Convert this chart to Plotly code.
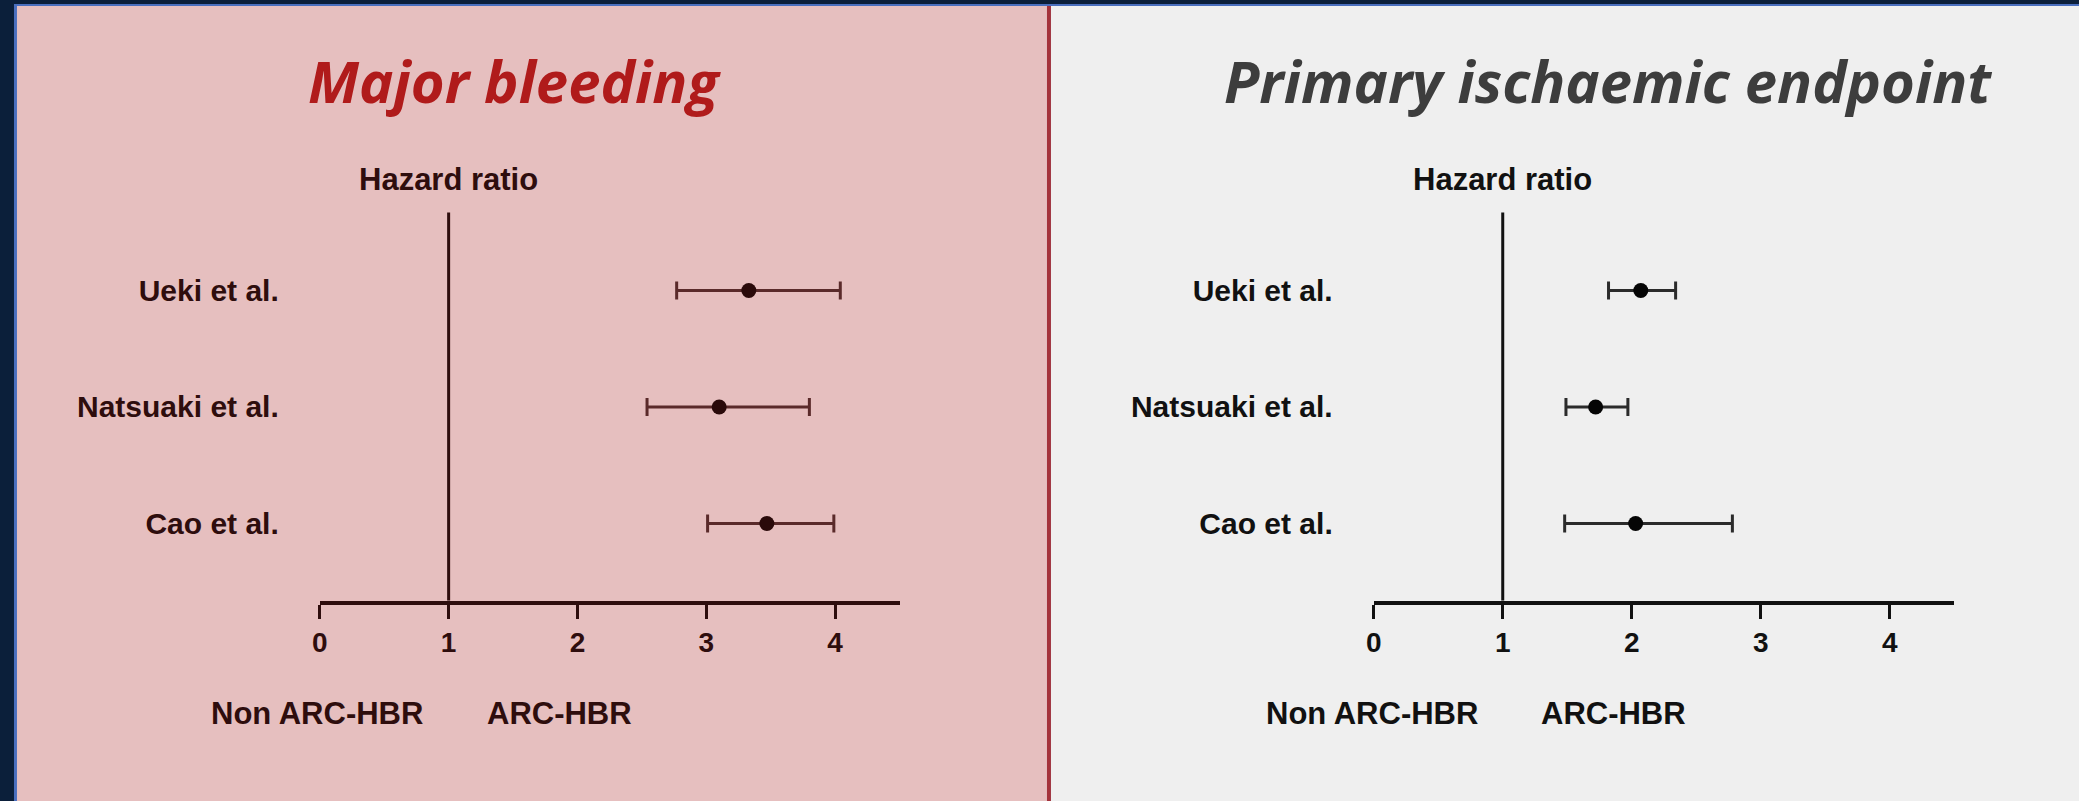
import plotly.graph_objects as go

W, H = 2079, 801

studies = ["Ueki et al.", "Natsuaki et al.", "Cao et al."]
rows = [3, 2, 1]

# Major bleeding: hazard ratio with 95% CI
bleed_hr = [3.33, 3.10, 3.47]
bleed_lo = [2.77, 2.54, 3.01]
bleed_hi = [4.04, 3.80, 3.99]

# Primary ischaemic endpoint
isch_hr = [2.07, 1.72, 2.03]
isch_lo = [1.82, 1.49, 1.48]
isch_hi = [2.34, 1.97, 2.78]

ref_value = 1
x_ticks = [0, 1, 2, 3, 4]
x_range = [0, 4.5]
y_range = [0.337, 4.034]
ref_line_top = 3.67

panels = [
    dict(title="Major bleeding", hr=bleed_hr, lo=bleed_lo, hi=bleed_hi,
         title_color="#b01b1b", ink="#2e0d0d", err="#5a2a2a", dot="#2a0a0a",
         xdom=[313 / W, 895 / W], title_x=508 / W),
    dict(title="Primary ischaemic endpoint", hr=isch_hr, lo=isch_lo, hi=isch_hi,
         title_color="#3d3d3d", ink="#111111", err="#2b2b2b", dot="#050505",
         xdom=[1371 / W, 1953.8 / W], title_x=1606 / W),
]

ydom = [1 - 600.7 / H, 1 - 170 / H]
FONT = "Liberation Sans, Arial"

fig = go.Figure()

# backgrounds
def rect(x0, y0, x1, y1, color):
    fig.add_shape(type="rect", xref="paper", yref="paper", layer="below",
                  x0=x0 / W, x1=x1 / W, y0=1 - y1 / H, y1=1 - y0 / H,
                  fillcolor=color, line_width=0)

rect(0, 0, W, H, "#0b1f3a")
rect(6, 4, W, H, "#4a6fbe")
rect(9, 6, 1043, H, "#e6bfbf")
rect(1043, 6, 1047, H, "#a3323b")
rect(1047, 6, W, H, "#efefef")

for i, p in enumerate(panels):
    xa = "x" if i == 0 else "x2"
    ya = "y" if i == 0 else "y2"
    plus = [h - m for h, m in zip(p["hi"], p["hr"])]
    minus = [m - l for m, l in zip(p["hr"], p["lo"])]
    fig.add_trace(go.Scatter(
        x=p["hr"], y=rows, mode="markers", xaxis=xa, yaxis=ya,
        marker=dict(size=15, color=p["dot"]),
        error_x=dict(type="data", symmetric=False, array=plus, arrayminus=minus,
                     color=p["err"], thickness=3, width=9),
        showlegend=False, hoverinfo="x+y",
    ))
    # reference line at HR = 1
    fig.add_shape(type="line", xref=xa, yref=ya, x0=ref_value, x1=ref_value,
                  y0=y_range[0], y1=ref_line_top, line=dict(color=p["ink"], width=3))
    ax = dict(domain=p["xdom"], range=x_range, tickvals=x_ticks, showgrid=False,
              zeroline=False, showline=True, linewidth=4, linecolor=p["ink"],
              ticks="outside", ticklen=14, tickwidth=3, tickcolor=p["ink"],
              tickfont=dict(family=FONT, size=28, weight="bold", color=p["ink"]),
              anchor=ya, fixedrange=True)
    ay = dict(domain=ydom, range=y_range, tickvals=rows, ticktext=studies,
              showgrid=False, zeroline=False, showline=False, ticks="",
              ticklabelstandoff=40,
              tickfont=dict(family=FONT, size=30, weight="bold", color=p["ink"]),
              anchor=xa, fixedrange=True)
    fig.update_layout({("xaxis" if i == 0 else "xaxis2"): ax,
                       ("yaxis" if i == 0 else "yaxis2"): ay})
    lab = dict(family=FONT, size=31, weight="bold", color=p["ink"])
    fig.add_annotation(x=ref_value, y=0.979, xref=xa, yref=ya + " domain",
                       text="Hazard ratio", showarrow=False, yanchor="middle", font=lab)
    fig.add_annotation(x=0.82, y=-0.261, xref=xa, yref=ya + " domain", text="Non ARC-HBR",
                       xanchor="right", yanchor="middle", showarrow=False, font=lab)
    fig.add_annotation(x=1.28, y=-0.261, xref=xa, yref=ya + " domain", text="ARC-HBR",
                       xanchor="left", yanchor="middle", showarrow=False, font=lab)
    fig.add_annotation(x=p["title_x"], y=1 - 80 / H, xref="paper", yref="paper",
                       text=p["title"], showarrow=False, xanchor="center", yanchor="middle",
                       font=dict(family="Open Sans", size=58, weight="bold",
                                 style="italic", color=p["title_color"]))

fig.update_layout(
    width=W, height=H,
    margin=dict(l=0, r=0, t=0, b=0),
    paper_bgcolor="#0b1f3a",
    plot_bgcolor="rgba(0,0,0,0)",
)

fig.write_html("out.html", config={"displayModeBar": False},
               post_script="document.body.style.margin='0';")
